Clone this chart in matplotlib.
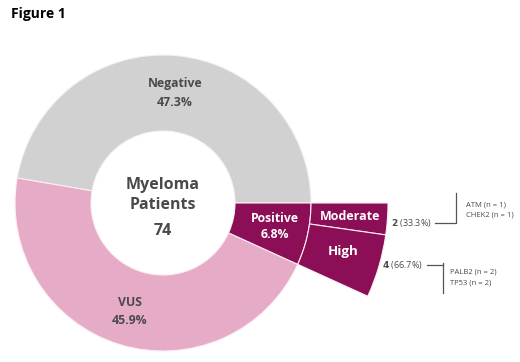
import matplotlib
matplotlib.use("Agg")
import matplotlib.pyplot as plt

plt.rcParams['font.family'] = ['Open Sans', 'DejaVu Sans']

# Data
main_labels = ["Negative", "VUS", "Positive"]
main_values = [47.3, 45.9, 6.8]
sub_labels = ["Moderate", "High"]
sub_counts = [2, 4]
sub_pcts = [33.3, 66.7]
sub_genes = [["ATM (n = 1)", "CHEK2 (n = 1)"], ["PALB2 (n = 2)", "TP53 (n = 2)"]]
total_patients = 74

W, H = 520, 362
fig = plt.figure(figsize=(W / 100, H / 100), dpi=100)
ax = fig.add_axes([0, 0, 1, 1])

def Y(y):
    return H - y

cx, cy = 163, Y(203)
R_out, R_in = 148, 72
R_sub = 225

main_colors = ["#d1d1d1", "#e6abc6", "#8b0e56"]
edge = "#fbeef4"

ax.pie(main_values, colors=main_colors, startangle=0, counterclock=True,
       radius=R_out, center=(cx, cy),
       wedgeprops=dict(width=R_out - R_in, edgecolor=edge, linewidth=0.8))

pos_frac = main_values[2] / 100.0
sub_fracs = [pos_frac * p / 100.0 for p in sub_pcts]
ax.pie(sub_fracs, colors=[main_colors[2]] * 2, startangle=0, counterclock=False,
       normalize=False, radius=R_sub, center=(cx, cy),
       wedgeprops=dict(width=R_sub - R_out, edgecolor=edge, linewidth=0.8))

ax.set_xlim(0, W)
ax.set_ylim(0, H)
ax.set_aspect('equal')
ax.axis('off')

dark = "#4a4a4a"
fs = 8.8
# main labels
ax.text(175, Y(84), "Negative", ha='center', va='center', fontsize=fs, fontweight='bold', color=dark)
ax.text(175, Y(102), f"{main_values[0]}%", ha='center', va='center', fontsize=fs, fontweight='bold', color=dark)
ax.text(130, Y(303), "VUS", ha='center', va='center', fontsize=fs, fontweight='bold', color=dark)
ax.text(130, Y(320), f"{main_values[1]}%", ha='center', va='center', fontsize=fs, fontweight='bold', color=dark)
ax.text(275, Y(219), "Positive", ha='center', va='center', fontsize=fs, fontweight='bold', color='white')
ax.text(275, Y(235), f"{main_values[2]}%", ha='center', va='center', fontsize=fs, fontweight='bold', color='white')

ax.text(350, Y(216), sub_labels[0], ha='center', va='center', fontsize=9, fontweight='bold', color='white')
ax.text(343, Y(252), sub_labels[1], ha='center', va='center', fontsize=9.5, fontweight='bold', color='white')

# center
ax.text(cx, Y(185), "Myeloma", ha='center', va='center', fontsize=11.5, fontweight='bold', color=dark)
ax.text(cx, Y(205), "Patients", ha='center', va='center', fontsize=11.5, fontweight='bold', color=dark)
ax.text(cx, Y(231), str(total_patients), ha='center', va='center', fontsize=11.5, fontweight='bold', color=dark)

# title
ax.text(11, Y(14), "Figure 1", ha='left', va='center', fontsize=10, fontweight='bold', color='black')

# annotations
lc = "#555555"
afs = 6.5
ax.text(432, Y(223), f"$\\bf{{{sub_counts[0]}}}$ ({sub_pcts[0]}%)", ha='right', va='center', fontsize=afs, color=dark)
ax.plot([435, 456, 456], [Y(223), Y(223), Y(193)], color=lc, lw=0.9)
ax.text(466, Y(205), sub_genes[0][0], ha='left', va='center', fontsize=5.5, color=dark)
ax.text(466, Y(215), sub_genes[0][1], ha='left', va='center', fontsize=5.5, color=dark)

ax.text(423, Y(265), f"$\\bf{{{sub_counts[1]}}}$ ({sub_pcts[1]}%)", ha='right', va='center', fontsize=afs, color=dark)
ax.plot([427, 443], [Y(265), Y(265)], color=lc, lw=0.9)
ax.plot([443, 443], [Y(263), Y(293)], color=lc, lw=0.9)
ax.text(450, Y(272), sub_genes[1][0], ha='left', va='center', fontsize=5.5, color=dark)
ax.text(450, Y(283), sub_genes[1][1], ha='left', va='center', fontsize=5.5, color=dark)

fig.savefig("out.png", dpi=100)
